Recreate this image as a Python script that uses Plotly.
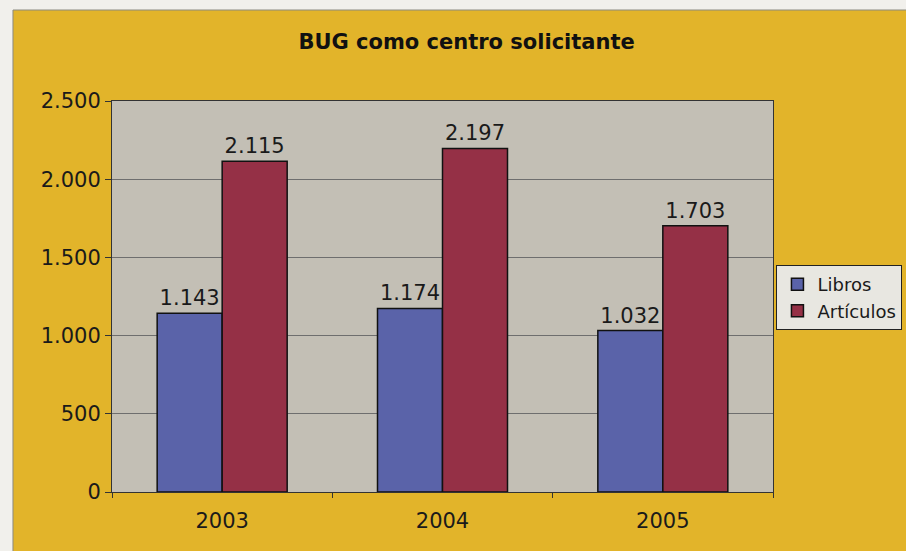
import plotly.graph_objects as go

years = ['2003', '2004', '2005']
libros = [1143, 1174, 1032]
articulos = [2115, 2197, 1703]

yellow = '#e2b42a'
font = 'DejaVu Sans'

fig = go.Figure()
fig.add_trace(go.Bar(
    x=years, y=libros, name='Libros',
    marker=dict(color='#5a63a9', line=dict(color='#111111', width=1.5)),
    texttemplate='%{y:,}', textposition='outside',
    textfont=dict(size=21, color='#1a1a1a'), cliponaxis=False,
))
fig.add_trace(go.Bar(
    x=years, y=articulos, name='Artículos',
    marker=dict(color='#953046', line=dict(color='#111111', width=1.5)),
    texttemplate='%{y:,}', textposition='outside',
    textfont=dict(size=21, color='#1a1a1a'), cliponaxis=False,
))

# white strips of the scanned page (top and left)
fig.add_shape(type='rect', xref='paper', yref='paper',
              x0=-0.2, x1=-0.1498, y0=-0.2, y1=1.3,
              fillcolor='#f1f0ec', line=dict(width=0), layer='below')
fig.add_shape(type='rect', xref='paper', yref='paper',
              x0=-0.2, x1=1.3, y0=1.2327, y1=1.3,
              fillcolor='#f1f0ec', line=dict(width=0), layer='below')
fig.add_shape(type='line', xref='paper', yref='paper',
              x0=-0.1498, x1=-0.1498, y0=-0.2, y1=1.2327,
              line=dict(color='#8a8a80', width=1))
fig.add_shape(type='line', xref='paper', yref='paper',
              x0=-0.1498, x1=1.3, y0=1.2327, y1=1.2327,
              line=dict(color='#8a8a80', width=1))

fig.update_layout(
    width=906, height=551,
    margin=dict(l=112, r=133, t=101, b=59, autoexpand=False),
    paper_bgcolor=yellow,
    plot_bgcolor='#c3bfb5',
    separators=',.',
    font=dict(family=font, size=21, color='#1a1a1a'),
    title=dict(text='<b>BUG como centro solicitante</b>', x=0.515, xanchor='center',
               y=0.924, yanchor='middle', font=dict(size=21, color='#111111')),
    barmode='group', bargap=0.41, bargroupgap=0,
    showlegend=True,
    legend=dict(xref='container', yref='container', x=0.857, y=0.519,
                xanchor='left', yanchor='top',
                bgcolor='#e8e7e1', bordercolor='#222222', borderwidth=1,
                font=dict(size=18), itemwidth=30, tracegroupgap=0),
    xaxis=dict(showline=True, linecolor='#333333', mirror=True,
               ticks='outside', tickson='boundaries', ticklen=5, tickcolor='#333333',
               tickfont=dict(size=21), ticklabelstandoff=10),
    yaxis=dict(range=[0, 2500], dtick=500, tickformat=',d',
               showline=True, linecolor='#333333', mirror=True,
               showgrid=True, gridcolor='#6e6e6e', gridwidth=1,
               ticks='outside', ticklen=6, tickcolor='#333333',
               tickfont=dict(size=21), zeroline=False),
)

fig.write_html('out.html', config={'displayModeBar': False},
               post_script="document.body.style.margin='0';")
